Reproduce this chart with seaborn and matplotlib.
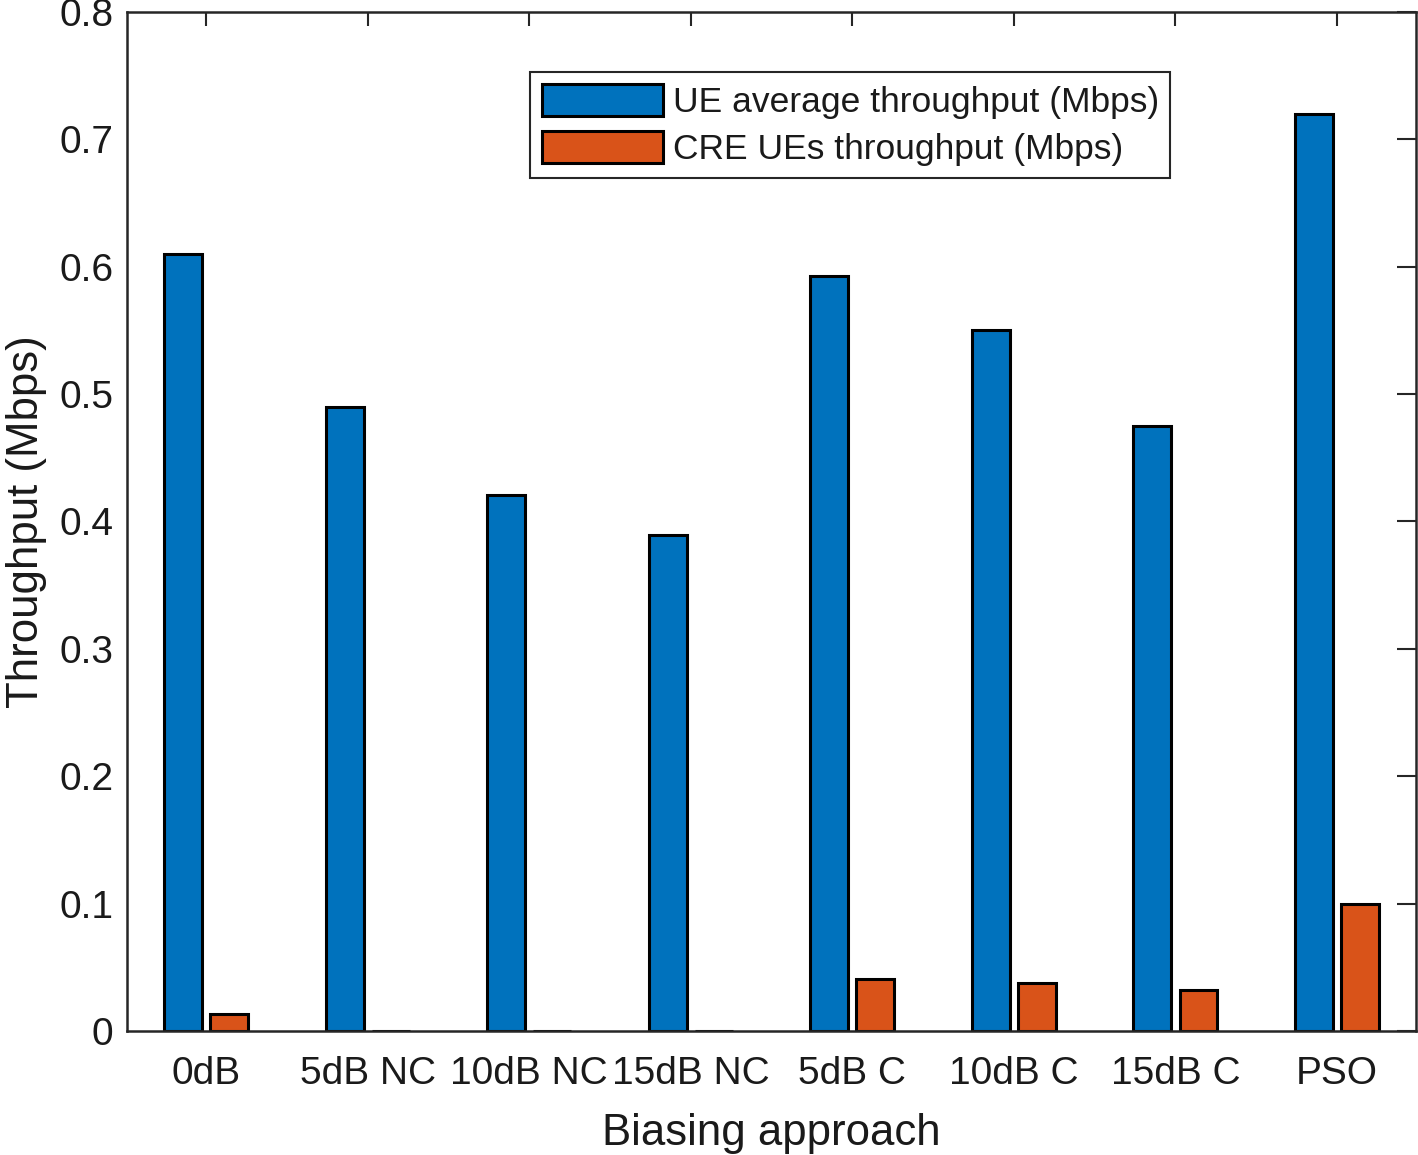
import pandas as pd
import numpy as np
import matplotlib
matplotlib.use("Agg")
import matplotlib.pyplot as plt
import seaborn as sns

categories = ["0dB", "5dB NC", "10dB NC", "15dB NC", "5dB C", "10dB C", "15dB C", "PSO"]
ue_avg = [0.610, 0.490, 0.421, 0.389, 0.593, 0.550, 0.475, 0.720]
cre_ue = [0.013, 0.0, 0.0, 0.0, 0.041, 0.038, 0.032, 0.100]
series_names = ["UE average throughput (Mbps)", "CRE UEs throughput (Mbps)"]
yticks = [0, 0.1, 0.2, 0.3, 0.4, 0.5, 0.6, 0.7, 0.8]
ytick_labels = ["0", "0.1", "0.2", "0.3", "0.4", "0.5", "0.6", "0.7", "0.8"]

df = pd.DataFrame({
    "approach": categories * 2,
    "value": ue_avg + cre_ue,
    "series": [series_names[0]] * len(categories) + [series_names[1]] * len(categories),
})

sns.set_style("white")
plt.rcParams["font.family"] = ["Liberation Sans", "DejaVu Sans"]

fig = plt.figure(figsize=(14.18, 11.55), dpi=100)
ax = fig.add_axes([0.0896, 0.1074, 0.909, 0.8822])

sns.barplot(data=df, x="approach", y="value", hue="series", order=categories,
            hue_order=series_names, palette=["#0072BD", "#D95319"],
            width=0.572, gap=0.18, edgecolor="black", linewidth=2.2,
            saturation=1, errorbar=None, ax=ax)

ax.set_xlim(-0.49, len(categories) - 0.51)
ax.set_ylim(0, 0.8)
ax.set_yticks(yticks)
ax.set_yticklabels(ytick_labels)
ax.set_xlabel("Biasing approach", fontsize=31.5, color="#1a1a1a", labelpad=15)
ax.set_ylabel("Throughput (Mbps)", fontsize=31.5, color="#1a1a1a", labelpad=9)
ax.tick_params(axis="both", labelsize=28, colors="#262626", direction="in",
               width=1.5, top=True, right=True)
ax.tick_params(axis="both", labelcolor="#1a1a1a")
ax.tick_params(axis="y", length=14, pad=10)
ax.tick_params(axis="x", length=10, pad=18)
for s in ax.spines.values():
    s.set_linewidth(1.8)
    s.set_color("#262626")
    s.set_visible(True)

leg = ax.legend(loc="upper left", bbox_to_anchor=(0.313, 0.941), fontsize=25.5,
                handlelength=3.4, handleheight=1.0, borderaxespad=0,
                fancybox=False, framealpha=1, edgecolor="#262626",
                borderpad=0.33, labelspacing=0.34, handletextpad=0.28)
leg.get_frame().set_linewidth(1.5)
for t in leg.get_texts():
    t.set_color("#1a1a1a")

fig.savefig("out.png", dpi=100)
